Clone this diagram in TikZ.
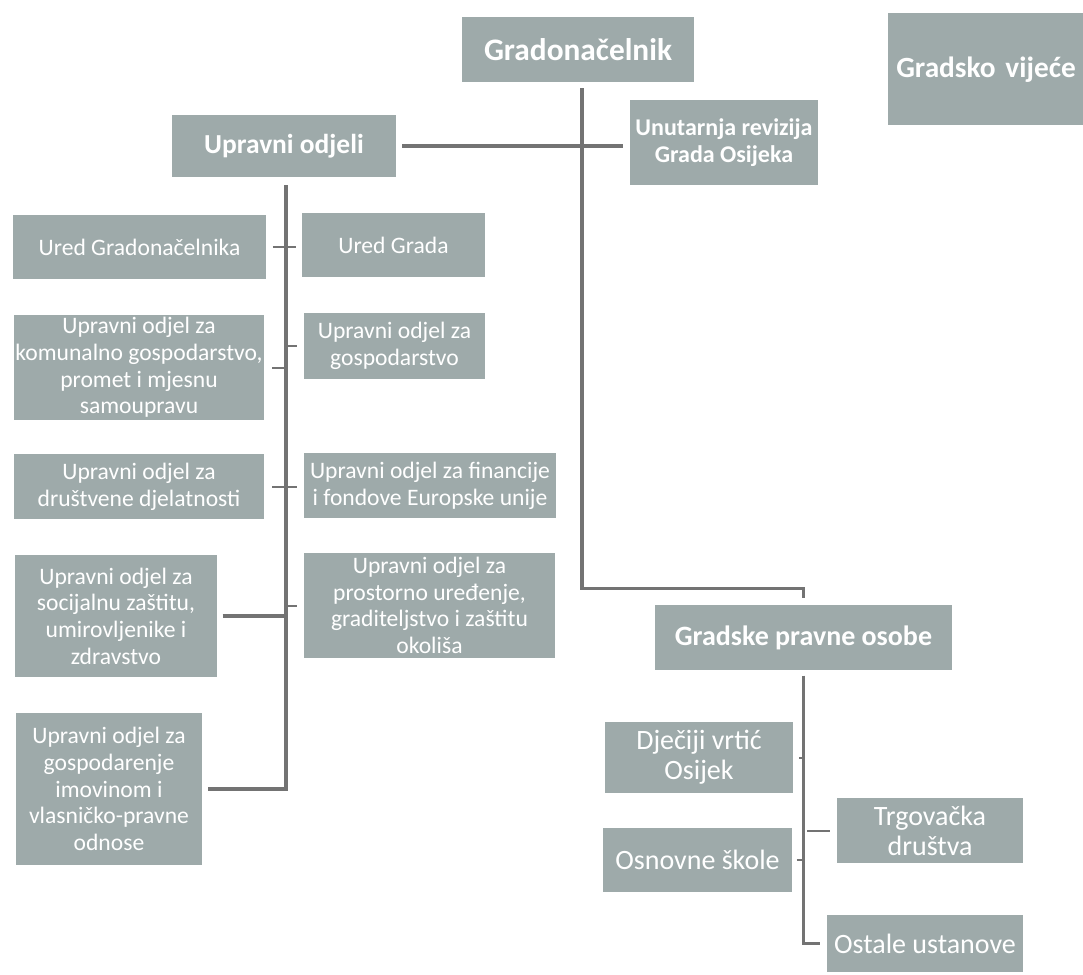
\documentclass[tikz,border=0pt]{standalone}
\usepackage{fontspec}
\setmainfont{Carlito}
\definecolor{boxc}{RGB}{158,170,170}
\definecolor{linec}{RGB}{115,115,115}
\newcommand{\orgbox}[7][]{\node[box,#1,minimum width={(#5-#3)*0.75pt},minimum height={(#6-#4)*0.75pt}] (#2) at ({(#3+#5)/2},{(#4+#6)/2}) {#7};}
\tikzset{
  box/.style={fill=boxc,text=white,inner sep=0pt,align=center},
  sm/.style={font=\fontsize{17.7}{20}\selectfont},
  md/.style={font=\fontsize{21}{22.5}\selectfont},
  hd/.style={font=\bfseries\fontsize{23.5}{26}\selectfont},
  hb/.style={font=\bfseries\fontsize{20.6}{23}\selectfont},
  hr/.style={font=\bfseries\fontsize{18}{20.3}\selectfont},
  ln/.style={draw=linec,line width=2.4pt},
  tk/.style={draw=linec,line width=1.5pt},
}
\begin{document}
\begin{tikzpicture}[x=0.75pt,y=-0.75pt]
\useasboundingbox[fill=white] (0,0) rectangle (1083,975);
% top level
\orgbox[hd]{grad}{462}{17}{694}{82}{Gradonačelnik}
\node[box,font=\bfseries\fontsize{22}{24}\selectfont,anchor=north west,minimum height={112*0.75pt},inner xsep={8*0.75pt},text width={200*0.75pt},align=left] (vij) at (888,13) {Gradsko vijeće};
\orgbox[hb]{uo}{172}{115}{396}{177}{Upravni odjeli}
\orgbox[hr]{ur}{630}{100}{818}{185}{Unutarnja revizija\\Grada Osijeka}
% upravni odjeli
\orgbox[sm]{ug}{13}{215}{266}{279}{Ured Gradonačelnika}
\orgbox[sm]{ugr}{302}{213}{485}{277}{Ured Grada}
\orgbox[sm]{uk}{14}{315}{264}{420}{Upravni odjel za\\komunalno gospodarstvo,\\promet i mjesnu\\samoupravu}
\orgbox[sm]{ugo}{304}{313}{485}{379}{Upravni odjel za\\gospodarstvo}
\orgbox[sm]{ud}{14}{454}{264}{519}{Upravni odjel za\\društvene djelatnosti}
\orgbox[sm]{uf}{304}{453}{556}{518}{Upravni odjel za financije\\i fondove Europske unije}
\orgbox[sm]{us}{15}{555}{217}{677}{Upravni odjel za\\socijalnu zaštitu,\\umirovljenike i\\zdravstvo}
\orgbox[sm]{up}{304}{553}{555}{658}{Upravni odjel za\\prostorno uređenje,\\graditeljstvo i zaštitu\\okoliša}
\orgbox[sm]{uim}{16}{713}{202}{865}{Upravni odjel za\\gospodarenje\\imovinom i\\vlasničko-pravne\\odnose}
% gradske pravne osobe
\orgbox[hb,font=\bfseries\fontsize{21}{23}\selectfont]{gpo}{655}{605}{952}{670}{Gradske pravne osobe}
\orgbox[md]{dv}{605}{722}{793}{793}{Dječiji vrtić\\Osijek}
\orgbox[md]{os}{603}{828}{792}{892}{Osnovne škole}
\orgbox[md]{tr}{837}{798}{1023}{863}{Trgovačka\\društva}
\orgbox[md]{ost}{827}{915}{1023}{972}{Ostale ustanove}
% spines
\coordinate (sp) at (286,0);
\coordinate (sp2) at (803,0);
\draw[ln] ([xshift=3pt,yshift=-4.5pt]grad.south) -- ++(0,500) -| ([yshift=5pt]gpo.north);
\draw[ln] ([xshift=4.5pt]uo.east) -- ([xshift=-5pt]ur.west |- uo.east);
\draw[ln] ([xshift=1.5pt,yshift=-6pt]uo.south) |- ([xshift=4pt]uim.east);
\draw[tk] ([xshift=5pt]ug.east) -- ([xshift=-4pt]ugr.west |- ug.east);
\draw[tk] ([xshift=6pt]uk.east) -- (sp |- uk.east);
\draw[tk] (sp |- ugo.west) -- ([xshift=-5pt]ugo.west);
\draw[tk] ([xshift=6pt]ud.east) -- ([xshift=-5pt]uf.west |- ud.east);
\draw[ln] ([xshift=4pt]us.east) -- (sp |- us.east);
\draw[tk] (sp |- up.west) -- ([xshift=-5pt]up.west);
\draw[ln] ([yshift=-4pt]gpo.south) |- ([xshift=-5pt]ost.west);
\draw[tk] ([xshift=3pt]sp2 |- tr.west) -- ([xshift=-5pt]tr.west);
\draw[tk] ([xshift=3.5pt]os.east) -- (sp2 |- os.east);
\draw[tk] ([xshift=4.5pt]dv.east) -- (sp2 |- dv.east);
\end{tikzpicture}
\end{document}
